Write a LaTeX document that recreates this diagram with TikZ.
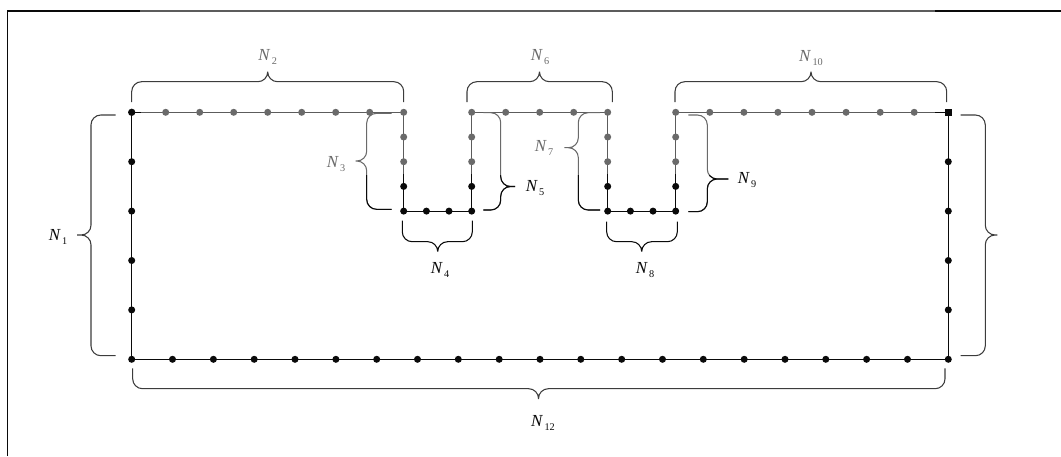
\documentclass[tikz,border=0pt]{standalone}
\usepackage{fontspec}
\setmainfont{Liberation Serif}
\usepackage{xcolor}
\definecolor{Ink}{HTML}{0A0A0A}
\definecolor{Dim}{HTML}{6A6A6A}
\definecolor{Rim}{HTML}{5C5C5C}
\definecolor{Arc}{HTML}{3C3C3C}
\newcommand{\nsub}[1]{\textit{N}\hspace{0.9pt}\raisebox{-0.45ex}{\fontsize{7.3}{8}\selectfont #1}}

\begin{document}
\begin{tikzpicture}[x=0.025cm,y=-0.025cm,
  pt/.style={fill=Ink},
  gpt/.style={fill=Dim},
  edge/.style={line width=0.7pt},
  brc/.style={line width=0.75pt,rounded corners=7pt},
  lab/.style={font=\fontsize{12}{14}\selectfont,inner sep=0pt}]
\useasboundingbox (0,0) rectangle (1061,456);
% page frame
\draw[Ink,line width=1.2pt] (7.4,456) -- (7.4,11) -- (140,11);
\draw[Rim,line width=1.2pt] (140,11) -- (935,11);
\draw[Ink,line width=1.2pt] (935,11) -- (1061,11);
% outline
\coordinate (tl) at (131.7,112.3);
\coordinate (tr) at (948.3,112.3);
\coordinate (bl) at (131.7,359.3);
\coordinate (br) at (948.3,359.3);
\coordinate (a1) at (403.7,112.3);
\coordinate (a1m) at (403.7,174);
\coordinate (a2) at (403.7,211.1);
\coordinate (a3) at (471.7,211.1);
\coordinate (a4m) at (471.7,174);
\coordinate (a4) at (471.7,112.3);
\coordinate (b1) at (607.7,112.3);
\coordinate (b1m) at (607.7,174);
\coordinate (b2) at (607.7,211.1);
\coordinate (b3) at (675.7,211.1);
\coordinate (b4m) at (675.7,174);
\coordinate (b4) at (675.7,112.3);
\draw[edge,Rim] (tl) -- (a1) -- (a1m);
\draw[edge,Rim] (a4m) -- (a4) -- (b1) -- (b1m);
\draw[edge,Rim] (b4m) -- (b4) -- (tr);
\draw[edge,Ink] (a1m) -- (a2) -- (a3) -- (a4m);
\draw[edge,Ink] (b1m) -- (b2) -- (b3) -- (b4m);
\draw[edge,Ink] (tr) -- (br) -- (bl) -- (tl) -- ++(9,0);
\draw[edge,Ink] (tr) -- ++(-13,0);
% braces above
\draw[brc,Arc] (131.7,102) -- (131.7,81.7) -- (267.7,81.7) -- (267.7,71.7) (403.7,102) -- (403.7,81.7) -- (267.7,81.7) -- (267.7,71.7);
\draw[brc,Arc] (467,102) -- (467,81.7) -- (539.5,81.7) -- (539.5,71.7) (612.3,102) -- (612.3,81.7) -- (539.5,81.7) -- (539.5,71.7);
\draw[brc,Arc] (675,102) -- (675,81.7) -- (811,81.7) -- (811,71.7) (946.7,102) -- (946.7,81.7) -- (811,81.7) -- (811,71.7);
% braces at the sides
\draw[brc,Arc] (115.7,115) -- (91,115) -- (91,235) -- (77,235) (115.7,355.7) -- (91,355.7) -- (91,235) -- (77,235);
\draw[brc,Arc] (960.7,115) -- (985.3,115) -- (985.3,235) -- (997.3,235) (960.7,355.7) -- (985.3,355.7) -- (985.3,235) -- (997.3,235);
\draw[brc,Arc] (132.7,368.3) -- (132.7,388.7) -- (538.5,388.7) -- (538.5,399) (945,368.3) -- (945,388.7) -- (538.5,388.7) -- (538.5,399);
% braces below the notches
\draw[brc,Ink] (402.3,220.7) -- (402.3,241.7) -- (437.7,241.7) -- (437.7,251.7) (472.3,220.7) -- (472.3,241.7) -- (437.7,241.7) -- (437.7,251.7);
\draw[brc,Ink] (606.7,221.7) -- (606.7,241.7) -- (641.7,241.7) -- (641.7,251.7) (677.3,221.7) -- (677.3,241.7) -- (641.7,241.7) -- (641.7,251.7);
% braces beside the notches
\draw[brc,Dim] (391.7,113.3) -- (366.7,113.3) -- (366.7,161) -- (355.7,161) (391.7,209.3) -- (366.7,209.3) -- (366.7,161) -- (355.7,161);
\draw[brc,Dim] (483.3,112.7) -- (500.7,112.7) -- (500.7,186.5) -- (515,186.5) (483.3,210) -- (500.7,210) -- (500.7,186.5) -- (515,186.5);
\draw[brc,Dim] (600,112.7) -- (578.3,112.7) -- (578.3,147.7) -- (564.3,147.7) (600,210) -- (578.3,210) -- (578.3,147.7) -- (564.3,147.7);
\draw[brc,Dim] (688.3,115) -- (707.3,115) -- (707.3,179) -- (728.3,179) (688.3,211.7) -- (707.3,211.7) -- (707.3,179) -- (728.3,179);
\begin{scope}
\clip (340,175) rectangle (740,225);
\draw[brc,Ink] (391.7,113.3) -- (366.7,113.3) -- (366.7,161) -- (355.7,161) (391.7,209.3) -- (366.7,209.3) -- (366.7,161) -- (355.7,161);
\draw[brc,Ink] (483.3,112.7) -- (500.7,112.7) -- (500.7,186.5) -- (515,186.5) (483.3,210) -- (500.7,210) -- (500.7,186.5) -- (515,186.5);
\draw[brc,Ink] (600,112.7) -- (578.3,112.7) -- (578.3,147.7) -- (564.3,147.7) (600,210) -- (578.3,210) -- (578.3,147.7) -- (564.3,147.7);
\draw[brc,Ink] (688.3,115) -- (707.3,115) -- (707.3,179) -- (728.3,179) (688.3,211.7) -- (707.3,211.7) -- (707.3,179) -- (728.3,179);
\end{scope}
% labels
\node[lab,text=Ink] (n1) at (58,237) {\nsub{1}};
\node[lab,text=Dim] (n2) at (267.7,57) {\nsub{2}};
\node[lab,text=Dim] (n3) at (336,164) {\nsub{3}};
\node[lab,text=Ink] (n4) at (440,270) {\nsub{4}};
\node[lab,text=Ink] (n5) at (535,188) {\nsub{5}};
\node[lab,text=Dim] (n6) at (540,57) {\nsub{6}};
\node[lab,text=Dim] (n7) at (544,148) {\nsub{7}};
\node[lab,text=Ink] (n8) at (645,270) {\nsub{8}};
\node[lab,text=Ink] (n9) at (747,180) {\nsub{9}};
\node[lab,text=Dim] (n10) at (811,58) {\nsub{10}};
\node[lab,text=Ink] (n12) at (543,423) {\nsub{12}};
% top dots
\fill[pt] (tl) circle (2.6pt);
\fill[gpt] (165.7,112.3) circle (2.5pt);
\fill[gpt] (199.7,112.3) circle (2.5pt);
\fill[gpt] (233.7,112.3) circle (2.5pt);
\fill[gpt] (267.7,112.3) circle (2.5pt);
\fill[gpt] (301.7,112.3) circle (2.5pt);
\fill[gpt] (335.7,112.3) circle (2.5pt);
\fill[gpt] (369.7,112.3) circle (2.5pt);
\fill[gpt] (a1) circle (2.5pt);
\fill[gpt] (403.7,137) circle (2.5pt);
\fill[gpt] (403.7,161.7) circle (2.5pt);
\fill[pt] (403.7,186.4) circle (2.5pt);
\fill[pt] (a2) circle (2.5pt);
\fill[pt] (426.4,211.1) circle (2.5pt);
\fill[pt] (449.0,211.1) circle (2.5pt);
\fill[pt] (a3) circle (2.5pt);
\fill[pt] (471.7,186.4) circle (2.5pt);
\fill[gpt] (471.7,161.7) circle (2.5pt);
\fill[gpt] (471.7,137) circle (2.5pt);
\fill[gpt] (a4) circle (2.5pt);
\fill[gpt] (505.7,112.3) circle (2.5pt);
\fill[gpt] (539.7,112.3) circle (2.5pt);
\fill[gpt] (573.7,112.3) circle (2.5pt);
\fill[gpt] (b1) circle (2.5pt);
\fill[gpt] (607.7,137) circle (2.5pt);
\fill[gpt] (607.7,161.7) circle (2.5pt);
\fill[pt] (607.7,186.4) circle (2.5pt);
\fill[pt] (b2) circle (2.5pt);
\fill[pt] (630.4,211.1) circle (2.5pt);
\fill[pt] (653.0,211.1) circle (2.5pt);
\fill[pt] (b3) circle (2.5pt);
\fill[pt] (675.7,186.4) circle (2.5pt);
\fill[gpt] (675.7,161.7) circle (2.5pt);
\fill[gpt] (675.7,137) circle (2.5pt);
\fill[gpt] (b4) circle (2.5pt);
\fill[gpt] (709.8,112.3) circle (2.5pt);
\fill[gpt] (743.9,112.3) circle (2.5pt);
\fill[gpt] (777.9,112.3) circle (2.5pt);
\fill[gpt] (812.0,112.3) circle (2.5pt);
\fill[gpt] (846.1,112.3) circle (2.5pt);
\fill[gpt] (880.2,112.3) circle (2.5pt);
\fill[gpt] (914.2,112.3) circle (2.5pt);
\node[rectangle,fill=Ink,inner sep=0pt,minimum size=1.8mm] (trdot) at (tr) {};
% side dots
\fill[pt] (131.7,161.7) circle (2.5pt);
\fill[pt] (131.7,211.1) circle (2.5pt);
\fill[pt] (131.7,260.5) circle (2.5pt);
\fill[pt] (131.7,309.9) circle (2.5pt);
\fill[pt] (948.3,161.7) circle (2.5pt);
\fill[pt] (948.3,211.1) circle (2.5pt);
\fill[pt] (948.3,260.5) circle (2.5pt);
\fill[pt] (948.3,309.9) circle (2.5pt);
% bottom dots
\fill[pt] (bl) circle (2.5pt);
\fill[pt] (172.5,359.3) circle (2.5pt);
\fill[pt] (213.4,359.3) circle (2.5pt);
\fill[pt] (254.2,359.3) circle (2.5pt);
\fill[pt] (295.0,359.3) circle (2.5pt);
\fill[pt] (335.9,359.3) circle (2.5pt);
\fill[pt] (376.7,359.3) circle (2.5pt);
\fill[pt] (417.5,359.3) circle (2.5pt);
\fill[pt] (458.3,359.3) circle (2.5pt);
\fill[pt] (499.2,359.3) circle (2.5pt);
\fill[pt] (540.0,359.3) circle (2.5pt);
\fill[pt] (580.8,359.3) circle (2.5pt);
\fill[pt] (621.7,359.3) circle (2.5pt);
\fill[pt] (662.5,359.3) circle (2.5pt);
\fill[pt] (703.3,359.3) circle (2.5pt);
\fill[pt] (744.2,359.3) circle (2.5pt);
\fill[pt] (785.0,359.3) circle (2.5pt);
\fill[pt] (825.8,359.3) circle (2.5pt);
\fill[pt] (866.6,359.3) circle (2.5pt);
\fill[pt] (907.5,359.3) circle (2.5pt);
\fill[pt] (br) circle (2.5pt);
\end{tikzpicture}
\end{document}
